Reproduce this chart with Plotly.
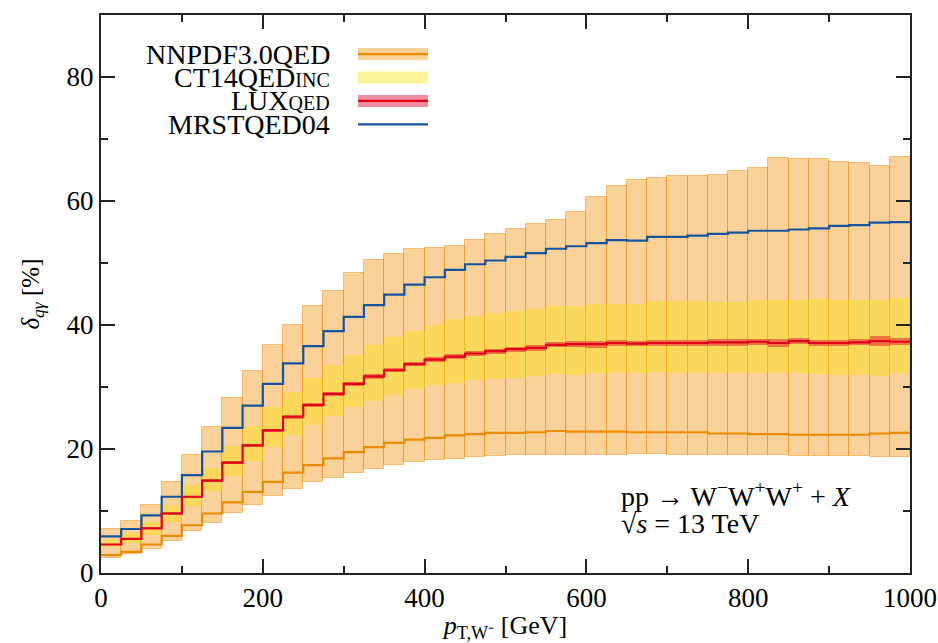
import plotly.graph_objects as go

# ---------------- data ----------------
bin_edges = [25 * i for i in range(41)]
bin_centers = [12.5 + 25 * i for i in range(40)]

nnpdf = [2.9, 3.4, 4.6, 6.0, 7.7, 9.6, 11.4, 13.1, 14.7, 16.2, 17.4, 18.5, 19.5, 20.3, 21.0, 21.5, 21.8, 22.2, 22.4, 22.6,
         22.6, 22.7, 22.9, 22.8, 22.8, 22.8, 22.7, 22.7, 22.7, 22.7, 22.5, 22.5, 22.4, 22.4, 22.3, 22.3, 22.3, 22.3, 22.5, 22.6]
nnpdf_hi = [7.1, 8.4, 11.0, 14.7, 19.0, 23.6, 28.2, 32.6, 36.8, 40.0, 43.1, 45.5, 48.4, 50.5, 51.5, 52.3, 52.5, 52.7, 53.7, 54.7,
            55.5, 56.3, 56.9, 58.2, 60.6, 62.4, 63.4, 63.7, 64.0, 64.0, 64.2, 64.8, 65.3, 66.9, 66.8, 66.8, 66.3, 66.1, 65.6, 67.1]
nnpdf_lo = [2.5, 3.0, 3.9, 5.2, 6.7, 8.1, 9.6, 11.0, 12.5, 13.5, 14.6, 15.3, 16.1, 16.8, 17.5, 17.9, 18.2, 18.4, 18.7, 18.8,
            19.0, 19.1, 19.1, 19.1, 19.1, 19.0, 19.2, 19.2, 19.1, 19.1, 19.1, 19.1, 19.0, 19.0, 18.9, 18.8, 18.8, 18.8, 18.7, 18.7]

ct14_hi = [5.3, 6.4, 8.3, 11.0, 14.2, 17.0, 20.5, 23.7, 26.7, 29.2, 31.5, 33.5, 35.1, 36.8, 38.0, 39.0, 40.0, 40.9, 41.5, 41.9,
           42.2, 42.6, 43.1, 43.1, 43.4, 43.4, 43.4, 43.8, 43.8, 43.8, 43.7, 43.7, 44.0, 44.1, 44.1, 44.2, 44.1, 44.1, 44.1, 44.4]
ct14_lo = [4.2, 4.8, 6.1, 8.3, 10.8, 13.2, 15.7, 18.1, 20.3, 22.3, 23.9, 25.4, 26.7, 27.8, 28.7, 29.6, 30.3, 30.7, 31.1, 31.3,
           31.5, 31.8, 32.1, 32.0, 32.2, 32.2, 32.2, 32.4, 32.3, 32.3, 32.3, 32.2, 32.2, 32.2, 32.2, 32.1, 32.0, 31.9, 31.8, 32.2]

lux = [4.6, 5.5, 7.2, 9.6, 12.3, 14.9, 17.8, 20.6, 23.0, 25.2, 27.1, 28.9, 30.5, 31.7, 32.7, 33.7, 34.4, 34.9, 35.4, 35.8,
       36.1, 36.3, 36.8, 36.9, 36.9, 37.1, 37.0, 37.1, 37.1, 37.1, 37.2, 37.2, 37.3, 37.1, 37.4, 37.1, 37.1, 37.2, 37.4, 37.3]
lux_err = [0.15, 0.15, 0.15, 0.2, 0.2, 0.2, 0.25, 0.25, 0.25, 0.3, 0.3, 0.3, 0.3, 0.35, 0.35, 0.35, 0.4, 0.4, 0.4, 0.4,
           0.4, 0.45, 0.4, 0.45, 0.6, 0.45, 0.45, 0.45, 0.45, 0.5, 0.55, 0.6, 0.5, 0.6, 0.45, 0.5, 0.55, 0.5, 0.75, 0.55]

mrst = [5.9, 7.1, 9.3, 12.3, 15.8, 19.6, 23.4, 27.0, 30.5, 33.8, 36.6, 39.0, 41.3, 43.2, 44.9, 46.5, 47.7, 48.9, 49.8, 50.4,
        51.0, 51.6, 52.3, 52.7, 53.2, 53.7, 53.6, 54.2, 54.2, 54.4, 54.7, 54.9, 55.2, 55.2, 55.4, 55.6, 56.0, 56.1, 56.5, 56.6]

legend_labels = ["NNPDF3.0QED",
                 "CT14QED<span style='font-size:20px'>INC</span>",
                 "LUX<span style='font-size:20px'>QED</span>",
                 "MRSTQED04"]

# ---------------- styles ----------------
C_OR_LINE = "#EB8C00"
C_OR_BAND = "rgba(240,140,0,0.40)"
C_OR_EDGE = "rgba(235,135,0,0.45)"
C_YE_BAND = "rgba(255,226,0,0.40)"
C_RE_LINE = "#E2001A"
C_RE_BAND = "rgba(222,0,40,0.45)"
C_BL_LINE = "#1555A0"
FONT = "Liberation Serif"

fig = go.Figure()

def band(lo, hi, color, edge=None):
    return go.Bar(x=bin_centers, y=[h - l for h, l in zip(hi, lo)], base=lo, width=25,
                  marker=dict(color=color, line=dict(color=edge or "rgba(0,0,0,0)", width=1 if edge else 0)),
                  showlegend=False, hoverinfo="skip")

def step(vals, color, width=2.2):
    return go.Scatter(x=bin_edges, y=vals + [vals[-1]], mode="lines", line=dict(color=color, width=width, shape="hv"),
                      showlegend=False, hoverinfo="skip")

fig.add_trace(band(nnpdf_lo, nnpdf_hi, C_OR_BAND, C_OR_EDGE))
fig.add_trace(band(ct14_lo, ct14_hi, C_YE_BAND))
fig.add_trace(band([v - e for v, e in zip(lux, lux_err)], [v + e for v, e in zip(lux, lux_err)], C_RE_BAND))
fig.add_trace(step(nnpdf, C_OR_LINE))
fig.add_trace(step(mrst, C_BL_LINE))
fig.add_trace(step(lux, C_RE_LINE))

# ---------------- legend (manual, right-aligned text with swatch on the right) ----------------
rows_y = [0.930, 0.888, 0.846, 0.804]
x_text = 0.2855
sx0, sx1 = 0.3177, 0.4042
hh = 0.0108
shapes = []
annotations = []
for lab, ry in zip(legend_labels, rows_y):
    annotations.append(dict(xref="paper", yref="paper", x=x_text, y=ry, text=lab, showarrow=False,
                            xanchor="right", yanchor="middle", font=dict(family=FONT, size=28, color="black")))
# NNPDF
shapes.append(dict(type="rect", xref="paper", yref="paper", x0=sx0, x1=sx1, y0=rows_y[0] - hh, y1=rows_y[0] + hh,
                   fillcolor=C_OR_BAND, line=dict(width=0)))
shapes.append(dict(type="line", xref="paper", yref="paper", x0=sx0, x1=sx1, y0=rows_y[0], y1=rows_y[0],
                   line=dict(color=C_OR_LINE, width=2.2)))
# CT14
shapes.append(dict(type="rect", xref="paper", yref="paper", x0=sx0, x1=sx1, y0=rows_y[1] - hh, y1=rows_y[1] + hh,
                   fillcolor=C_YE_BAND, line=dict(width=0)))
# LUX
shapes.append(dict(type="rect", xref="paper", yref="paper", x0=sx0, x1=sx1, y0=rows_y[2] - hh, y1=rows_y[2] + hh,
                   fillcolor=C_RE_BAND, line=dict(width=0)))
shapes.append(dict(type="line", xref="paper", yref="paper", x0=sx0, x1=sx1, y0=rows_y[2], y1=rows_y[2],
                   line=dict(color=C_RE_LINE, width=2.2)))
# MRST
shapes.append(dict(type="line", xref="paper", yref="paper", x0=sx0, x1=sx1, y0=rows_y[3], y1=rows_y[3],
                   line=dict(color=C_BL_LINE, width=2.2)))

# process label
annotations.append(dict(xref="paper", yref="paper", x=0.640, y=0.140,
                        text="pp → W<sup>−</sup>W<sup>+</sup>W<sup>+</sup> + <i>X</i>", showarrow=False,
                        xanchor="left", yanchor="middle", font=dict(family=FONT, size=28, color="black")))
annotations.append(dict(xref="paper", yref="paper", x=0.640, y=0.088,
                        text="√<i>s</i> = 13 TeV", showarrow=False,
                        xanchor="left", yanchor="middle", font=dict(family=FONT, size=28, color="black")))

axis_common = dict(showline=True, linecolor="#222", linewidth=2, mirror="ticks", ticks="inside",
                   ticklen=14, tickwidth=1.5, tickcolor="#222", showgrid=False, zeroline=False,
                   automargin=False,
                   tickfont=dict(family=FONT, size=27, color="black"))

fig.update_layout(
    width=938, height=643,
    margin=dict(l=101, r=28, t=15, b=70),
    paper_bgcolor="white", plot_bgcolor="white",
    barmode="overlay", bargap=0,
    showlegend=False,
    shapes=shapes, annotations=annotations,
    xaxis=dict(range=[0, 1000], dtick=200, tick0=0,
               minor=dict(dtick=100, ticklen=7, ticks="inside", tickcolor="#222", tickwidth=1.5),
               title=dict(text="<i>p</i><sub>T,W⁻</sub> [GeV]", font=dict(family=FONT, size=26, color="black"), standoff=12),
               **axis_common),
    yaxis=dict(range=[0, 90], dtick=20, tick0=0,
               minor=dict(dtick=10, ticklen=7, ticks="inside", tickcolor="#222", tickwidth=1.5),
               title=dict(text="<i>δ</i><sub><i>qγ</i></sub> [%]", font=dict(family=FONT, size=25, color="black"), standoff=20),
               **axis_common),
)

fig.write_html("out.html")
